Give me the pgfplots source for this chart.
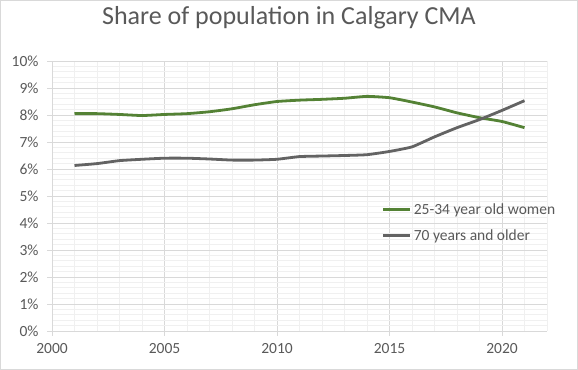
\documentclass[border=0pt]{standalone}
\usepackage{pgfplots}
\pgfplotsset{compat=1.18}
\usepackage{fontspec}
\setmainfont{Carlito}
\definecolor{cgreen}{RGB}{84,130,53}
\definecolor{cgray}{RGB}{99,99,99}
\definecolor{ctext}{RGB}{89,89,89}
\definecolor{gmaj}{RGB}{217,217,217}
\definecolor{gmin}{RGB}{240,240,240}
\newcommand\tickfont{\fontsize{15.5bp}{18bp}\selectfont}
\newcommand\titlefont{\fontsize{26bp}{30bp}\selectfont}
\begin{document}
\begin{tikzpicture}
\useasboundingbox (0,0) rectangle (578bp,370bp);
\draw[gmaj] (0.5bp,0.5bp) rectangle (577.5bp,369.5bp);
\node[text=ctext,font=\titlefont, anchor=base, inner sep=0pt] at (289bp,345bp) {Share of population in Calgary CMA};
\begin{axis}[
  at={(52bp,39bp)}, anchor=south west,
  scale only axis, width=495bp, height=270bp,
  xmin=2000, xmax=2022, ymin=0, ymax=10,
  xtick={2000,2005,2010,2015,2020},
  minor xtick={2001,2002,2003,2004,2006,2007,2008,2009,2011,2012,2013,2014,2016,2017,2018,2019,2021,2022},
  ytick={0,1,...,10},
  minor y tick num=4,
  grid=both,
  major grid style={gmaj, line width=0.75bp},
  minor grid style={gmin, line width=0.75bp},
  axis x line*=bottom, axis y line*=left,
  axis line style={gmaj, line width=0.75bp, -},
  tick style={gmaj, line width=0.75bp},
  tick align=outside, major tick length=5bp, minor tick length=0pt,
  /pgf/number format/assume math mode=true,
  /pgf/number format/1000 sep={},
  xticklabel={\tickfont\pgfmathprintnumber{\tick}},
  yticklabel={\tickfont\pgfmathprintnumber{\tick}\%},
  every tick label/.append style={text=ctext, font=\tickfont},
  xticklabel style={yshift=-4bp},
  yticklabel style={xshift=-5bp},
  legend style={at={(0.66,0.487)}, anchor=north west, draw=none, fill=none,
    font=\tickfont, text=ctext, row sep=9.5bp},
  legend cell align=left,
  legend image code/.code={\draw[#1, line width=3bp] (0bp,0bp) -- (27bp,0bp);},
]
\addplot[cgreen, line width=2.8bp, smooth, tension=0.3] coordinates {
(2001,8.05) (2002,8.05) (2003,8.02) (2004,7.98) (2005,8.02) (2006,8.05) (2007,8.12)
(2008,8.23) (2009,8.38) (2010,8.50) (2011,8.55) (2012,8.58) (2013,8.62) (2014,8.69)
(2015,8.64) (2016,8.48) (2017,8.30) (2018,8.08) (2019,7.90) (2020,7.76) (2021,7.53)};
\addlegendentry{25-34 year old women}
\addplot[cgray, line width=2.8bp, smooth, tension=0.3] coordinates {
(2001,6.13) (2002,6.20) (2003,6.31) (2004,6.36) (2005,6.40) (2006,6.40) (2007,6.37)
(2008,6.33) (2009,6.33) (2010,6.36) (2011,6.46) (2012,6.48) (2013,6.50) (2014,6.53)
(2015,6.65) (2016,6.82) (2017,7.19) (2018,7.53) (2019,7.83) (2020,8.17) (2021,8.53)};
\addlegendentry{70 years and older}
\end{axis}
\end{tikzpicture}
\end{document}
